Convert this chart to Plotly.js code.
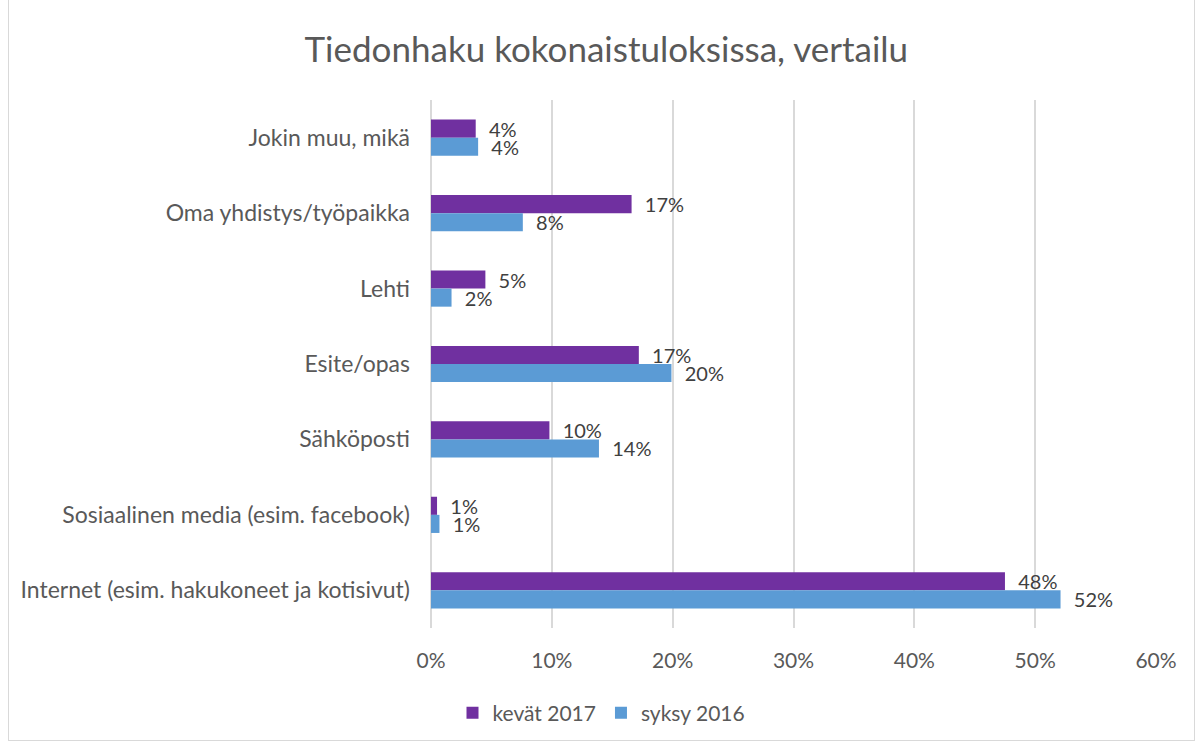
<!DOCTYPE html>
<html>
<head>
<meta charset="utf-8">
<script src="https://cdn.plot.ly/plotly-3.0.1.min.js"></script>
<style>
  html, body { margin: 0; padding: 0; background: #ffffff; }
  #chart { position: absolute; left: 0; top: 0; width: 1203px; height: 746px; }
  #frame { position: absolute; left: 8px; top: -1px; width: 1185px; height: 740px; border: 1px solid #d9d9d9; pointer-events: none; }
</style>
</head>
<body>
<div id="chart"></div>
<div id="frame"></div>
<script>
const categories = [
  "Jokin muu, mikä",
  "Oma yhdistys/työpaikka",
  "Lehti",
  "Esite/opas",
  "Sähköposti",
  "Sosiaalinen media (esim. facebook)",
  "Internet (esim. hakukoneet ja kotisivut)"
];
const seriesNames = ["kevät 2017", "syksy 2016"];
const kevat2017 = [3.7, 16.6, 4.5, 17.2, 9.8, 0.5, 47.5];
const syksy2016 = [3.9, 7.6, 1.7, 19.9, 13.9, 0.7, 52.1];
const xTickVals = [0, 10, 20, 30, 40, 50, 60];
const xTickText = ["0%", "10%", "20%", "30%", "40%", "50%", "60%"];
const colors = ["#7030A0", "#5B9BD5"];

const fontFamily = "Lato, 'Open Sans', sans-serif";
const txt = v => "\u00a0\u00a0" + Math.round(v) + "%";

const traces = [kevat2017, syksy2016].map((vals, i) => ({
  type: "bar",
  orientation: "h",
  name: seriesNames[i],
  y: categories,
  x: vals,
  marker: { color: colors[i] },
  text: vals.map(txt),
  textposition: "outside",
  constraintext: "none",
  textfont: { family: fontFamily, size: 20, color: "#404040" },
  cliponaxis: false,
  hoverinfo: "x+y+name"
}));

const layout = {
  width: 1203,
  height: 746,
  paper_bgcolor: "#ffffff",
  plot_bgcolor: "#ffffff",
  font: { family: fontFamily, color: "#595959" },
  margin: { l: 431, r: 47, t: 100, b: 118 },
  title: {
    text: "Tiedonhaku kokonaistuloksissa, vertailu",
    font: { family: fontFamily, size: 35, color: "#595959" },
    x: 0.504, xanchor: "center",
    y: 0.933, yanchor: "middle"
  },
  barmode: "group",
  bargap: 0.52,
  bargroupgap: 0,
  xaxis: {
    range: [0, 60],
    tickvals: xTickVals,
    ticktext: xTickText,
    showgrid: true,
    gridcolor: "#d9d9d9",
    gridwidth: 2,
    zeroline: true,
    zerolinecolor: "#d9d9d9",
    zerolinewidth: 2,
    showline: false,
    ticks: "",
    ticklabelstandoff: 18,
    tickfont: { family: fontFamily, size: 21, color: "#595959" },
    fixedrange: true
  },
  yaxis: {
    autorange: "reversed",
    showgrid: false,
    zeroline: false,
    showline: false,
    ticks: "",
    ticklabelstandoff: 20,
    tickfont: { family: fontFamily, size: 23, color: "#595959" },
    fixedrange: true
  },
  showlegend: true,
  legend: {
    orientation: "h",
    xref: "container",
    yref: "container",
    x: 0.5,
    xanchor: "center",
    y: 0.044,
    yanchor: "middle",
    font: { family: fontFamily, size: 21, color: "#595959" },
    traceorder: "normal"
  }
};

Plotly.newPlot("chart", traces, layout, { displayModeBar: false, staticPlot: false });
</script>
</body>
</html>
